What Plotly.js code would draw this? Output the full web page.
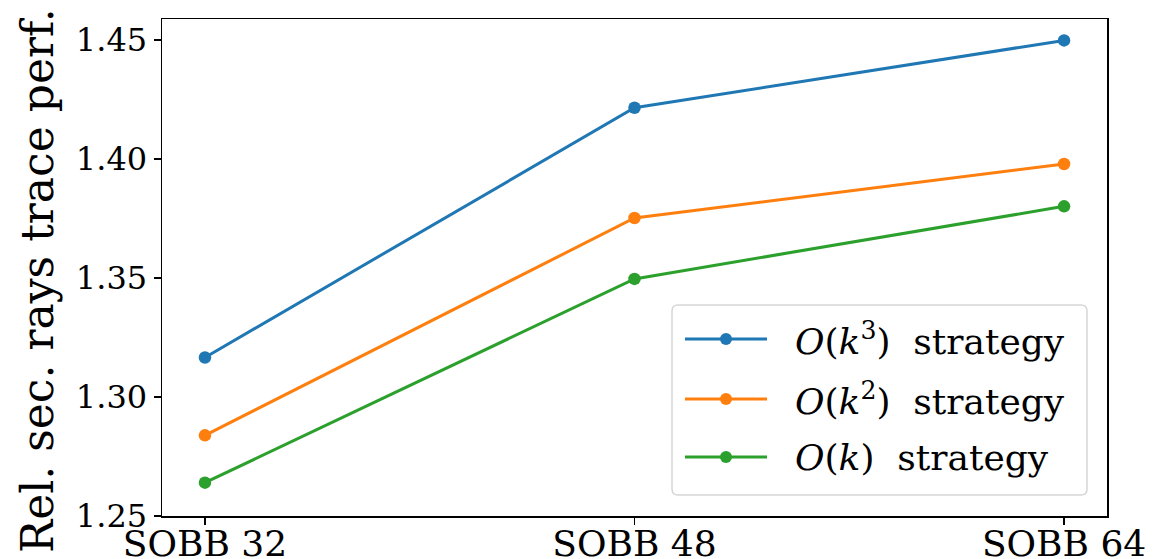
<!DOCTYPE html>
<html>
<head>
<meta charset="utf-8">
<script src="https://cdn.plot.ly/plotly-3.0.1.min.js"></script>
<style>
  html, body { margin: 0; padding: 0; background: #ffffff; }
  #chart { width: 1153px; height: 559px; }
</style>
</head>
<body>
<div id="chart"></div>
<script>
// BVH variants on the x axis
const categories = ['SOBB 32', 'SOBB 48', 'SOBB 64'];

// Relative secondary-ray trace performance per strategy
const cubicValues = [1.3166, 1.4215, 1.4498];
const quadraticValues = [1.2839, 1.3752, 1.3979];
const linearValues = [1.2640, 1.3496, 1.3801];

const seriesNames = [
  '<i>O</i>(<i>k</i><sup>3</sup>)  strategy',
  '<i>O</i>(<i>k</i><sup>2</sup>)  strategy',
  '<i>O</i>(<i>k</i>)  strategy'
];
const seriesColors = ['#1f77b4', '#ff7f0e', '#2ca02c'];
const seriesValues = [cubicValues, quadraticValues, linearValues];

const yTickVals = [1.25, 1.30, 1.35, 1.40, 1.45];
const yTickText = ['1.25', '1.30', '1.35', '1.40', '1.45'];
const yTitle = 'Rel. sec. rays trace perf.';

const W = 1153, H = 559;
const margin = { l: 162, r: 46, t: 19, b: 43 };
const plotW = W - margin.l - margin.r;
const plotH = H - margin.t - margin.b;

// pixel position -> paper fraction helpers for the legend box and title
const px = x => (x - margin.l) / plotW;
const py = y => (H - margin.b - y) / plotH;

const traces = seriesValues.map((vals, i) => ({
  type: 'scatter',
  mode: 'lines+markers',
  x: categories,
  y: vals,
  name: seriesNames[i],
  line: { color: seriesColors[i], width: 3 },
  marker: { color: seriesColors[i], size: 12.5 },
  showlegend: false,
  cliponaxis: false
}));

// Hand-drawn legend: rounded frame, line samples with a dot, labels
const shapes = [];
const annotations = [];
const boxL = 672, boxR = 1087, boxT = 305, boxB = 495, rad = 6;
shapes.push({
  type: 'path',
  xref: 'paper', yref: 'paper',
  path: 'M' + px(boxL + rad) + ',' + py(boxT) +
        ' L' + px(boxR - rad) + ',' + py(boxT) +
        ' Q' + px(boxR) + ',' + py(boxT) + ' ' + px(boxR) + ',' + py(boxT + rad) +
        ' L' + px(boxR) + ',' + py(boxB - rad) +
        ' Q' + px(boxR) + ',' + py(boxB) + ' ' + px(boxR - rad) + ',' + py(boxB) +
        ' L' + px(boxL + rad) + ',' + py(boxB) +
        ' Q' + px(boxL) + ',' + py(boxB) + ' ' + px(boxL) + ',' + py(boxB - rad) +
        ' L' + px(boxL) + ',' + py(boxT + rad) +
        ' Q' + px(boxL) + ',' + py(boxT) + ' ' + px(boxL + rad) + ',' + py(boxT) + ' Z',
  fillcolor: 'rgba(255,255,255,0.85)',
  line: { color: '#d6d6d6', width: 1.5 },
  layer: 'above'
});
const rowY = [339, 399, 457];
seriesNames.forEach((name, i) => {
  const yy = py(rowY[i]);
  shapes.push({
    type: 'line', xref: 'paper', yref: 'paper',
    x0: px(685), x1: px(767), y0: yy, y1: yy,
    line: { color: seriesColors[i], width: 3 },
    layer: 'above'
  });
  shapes.push({
    type: 'circle', xref: 'paper', yref: 'paper',
    xsizemode: 'pixel', ysizemode: 'pixel',
    xanchor: px(726), yanchor: yy,
    x0: -6, x1: 6, y0: -6, y1: 6,
    fillcolor: seriesColors[i],
    line: { width: 0 },
    layer: 'above'
  });
  annotations.push({
    xref: 'paper', yref: 'paper',
    x: px(793), y: yy,
    xanchor: 'left', yanchor: 'middle',
    text: name,
    showarrow: false,
    font: { family: 'DejaVu Serif', size: 36, color: '#000000' }
  });
});

// Vertical axis title, placed by hand so it sits slightly below the plot centre
annotations.push({
  xref: 'paper', yref: 'paper',
  x: px(37), y: py(281),
  xanchor: 'center', yanchor: 'middle',
  textangle: -90,
  text: yTitle,
  showarrow: false,
  font: { family: 'DejaVu Serif', size: 44, color: '#000000' }
});

const layout = {
  width: W,
  height: H,
  margin: margin,
  paper_bgcolor: '#ffffff',
  plot_bgcolor: '#ffffff',
  showlegend: false,
  font: { family: 'DejaVu Serif', color: '#000000' },
  xaxis: {
    type: 'category',
    range: [-0.1, 2.1],
    showgrid: false,
    zeroline: false,
    showline: true,
    linecolor: '#000000',
    linewidth: 1.5,
    mirror: true,
    ticks: 'outside',
    ticklen: 7,
    tickwidth: 1.5,
    tickcolor: '#000000',
    tickfont: { family: 'DejaVu Serif', size: 36, color: '#000000' },
    ticklabelstandoff: -12
  },
  yaxis: {
    range: [1.25, 1.4588],
    tickvals: yTickVals,
    ticktext: yTickText,
    showgrid: false,
    zeroline: false,
    showline: true,
    linecolor: '#000000',
    linewidth: 1.5,
    mirror: true,
    ticks: 'outside',
    ticklen: 7,
    tickwidth: 1.5,
    tickcolor: '#000000',
    tickfont: { family: 'DejaVu Serif', size: 32, color: '#000000' }
  },
  shapes: shapes,
  annotations: annotations
};

Plotly.newPlot('chart', traces, layout, { displayModeBar: false, staticPlot: true });
</script>
</body>
</html>
